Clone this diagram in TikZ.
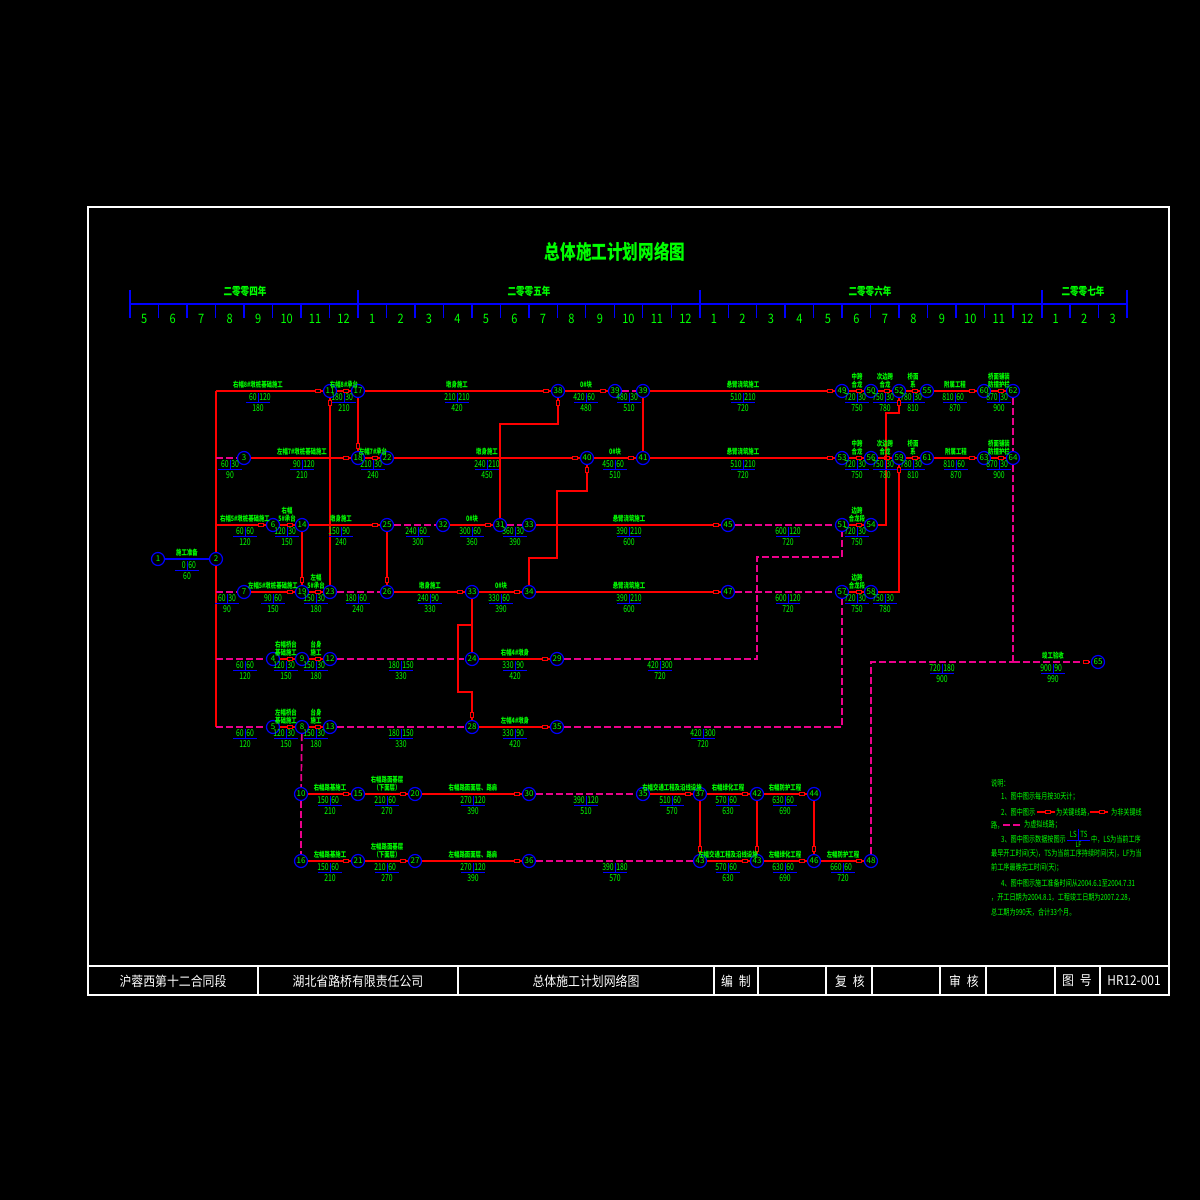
\documentclass[tikz,border=0pt]{standalone}
\usepackage{fontspec}
\setmainfont{Noto Sans CJK SC}
\usetikzlibrary{decorations.markings}

% LS | TS over LF, with the activity name above the line
\newcommand{\actlab}[6]{%
	\node[anm] (a#1-#2) at (#1,#2-2) {#3};
	\node[tnum,anchor=east] (s#1-#2) at (#1-1,#2+6.5) {#4};
	\node[tnum,anchor=west] (d#1-#2) at (#1+1,#2+6.5) {#5};
	\node[tnum] (f#1-#2) at (#1,#2+17.5) {#6};
	\draw[tbar] (#1,#2+2) -- (#1,#2+11) (#1-12,#2+11) -- (#1+12,#2+11);
}

\begin{document}
\begin{tikzpicture}[x=1pt,y=-1pt,
		nd/.style={circle,draw=blue,line width=1.2pt,fill=black,minimum size=13pt,inner sep=0pt,text=green,font=\fontsize{8}{8}\selectfont},
		act/.style={draw=red,line width=1.4pt,postaction={decorate,decoration={markings,mark=at position -5pt with {\draw[red,solid,line width=0.8pt,fill=black] (-2.6,-1.8) rectangle (2.6,1.8);}}}},
		crit/.style={act,line width=2.4pt},
		redl/.style={draw=red,line width=1.4pt},
		dum/.style={draw=magenta,line width=1.7pt,dash pattern=on 7pt off 3pt},
		dumk/.style={dum,line width=2.6pt,postaction={decorate,decoration={markings,mark=at position -5pt with {\draw[red,solid,line width=0.8pt,fill=black] (-2.6,-1.8) rectangle (2.6,1.8);}}}},
		anm/.style={anchor=south,text=green,align=center,inner sep=0.4pt,xscale=0.72,font=\bfseries\fontsize{7.5}{7.8}\selectfont},
		tnum/.style={text=green,inner sep=0.3pt,xscale=0.72,font=\fontsize{9.5}{9.5}\selectfont},
		tbar/.style={draw=blue,line width=1pt},
		tax/.style={draw=blue,line width=1.4pt},
		mon/.style={text=green,inner sep=0pt,xscale=0.85,font=\fontsize{13}{13}\selectfont},
		yr/.style={text=green,inner sep=0pt,xscale=0.78,font=\bfseries\fontsize{11}{11}\selectfont},
		tbk/.style={text=white,inner sep=0pt,xscale=0.88,font=\fontsize{13.5}{13.5}\selectfont},
		nt/.style={anchor=west,text=green,inner sep=0pt,xscale=0.72,font=\fontsize{8.5}{8.5}\selectfont}]
	\fill[black] (0,0) rectangle (1200,1200);
	% frame and title block
	\draw[white,line width=1.8pt] (88,207) rectangle (1169,995);
	\draw[white,line width=1.2pt] (88,966) -- (1169,966);
	\foreach \x in {258,458,714,758,826,872,940,986,1055,1100}
		\draw[white,line width=1.2pt] (\x,966) -- (\x,995);
	\node[tbk] (b1) at (173,981) {沪蓉西第十二合同段};
	\node[tbk] (b2) at (358,981) {湖北省路桥有限责任公司};
	\node[tbk] (b3) at (586,981) {总体施工计划网络图};
	\node[tbk] (b4) at (736,981) {编\enspace 制};
	\node[tbk] (b5) at (850,981) {复\enspace 核};
	\node[tbk] (b6) at (964,981) {审\enspace 核};
	\node[tbk] (b7) at (1077,981) {图\enspace 号};
	\node[tbk] (b8) at (1134,981) {HR12-001};
	\node[text=green,xscale=0.78,font=\bfseries\fontsize{20}{20}\selectfont] (ttl) at (615,252) {总体施工计划网络图};
	% time scale
	\draw[tax] (130,304) -- (1127,304);
	\foreach \x in {130,358,700,1042,1127}
		\draw[tax] (\x,290) -- (\x,318);
	\foreach \k in {1,...,34}
		\draw[tax] (130+28.486*\k,304) -- (130+28.486*\k,318);
	\foreach \m [count=\k from 0] in {5,6,7,8,9,10,11,12,1,2,3,4,5,6,7,8,9,10,11,12,1,2,3,4,5,6,7,8,9,10,11,12,1,2,3}
		\node[mon] (m\k) at (144.2+28.486*\k,319) {\m};
	\node[yr] (y4) at (245,291) {二零零四年};
	\node[yr] (y5) at (529,291) {二零零五年};
	\node[yr] (y6) at (870,291) {二零零六年};
	\node[yr] (y7) at (1083,291) {二零零七年};
	% event nodes
	\node[nd] (n1) at (158,559) {1};
	\node[nd] (n2) at (216,559) {2};
	\node[nd] (n11) at (330,391) {11};
	\node[nd] (n17) at (358,391) {17};
	\node[nd] (n38) at (558,391) {38};
	\node[nd] (n39a) at (615,391) {39};
	\node[nd] (n39) at (643,391) {39};
	\node[nd] (n49) at (842,391) {49};
	\node[nd] (n50) at (871,391) {50};
	\node[nd] (n52) at (899,391) {52};
	\node[nd] (n55) at (927,391) {55};
	\node[nd] (n60) at (984,391) {60};
	\node[nd] (n62) at (1013,391) {62};
	\node[nd] (n3) at (244,458) {3};
	\node[nd] (n18) at (358,458) {18};
	\node[nd] (n22) at (387,458) {22};
	\node[nd] (n40) at (587,458) {40};
	\node[nd] (n41) at (643,458) {41};
	\node[nd] (n53) at (842,458) {53};
	\node[nd] (n56) at (871,458) {56};
	\node[nd] (n59) at (899,458) {59};
	\node[nd] (n61) at (927,458) {61};
	\node[nd] (n63) at (984,458) {63};
	\node[nd] (n64) at (1013,458) {64};
	\node[nd] (n6) at (273,525) {6};
	\node[nd] (n14) at (302,525) {14};
	\node[nd] (n25) at (387,525) {25};
	\node[nd] (n32) at (443,525) {32};
	\node[nd] (n31) at (500,525) {31};
	\node[nd] (n33) at (529,525) {33};
	\node[nd] (n45) at (728,525) {45};
	\node[nd] (n51) at (842,525) {51};
	\node[nd] (n54) at (871,525) {54};
	\node[nd] (n7) at (244,592) {7};
	\node[nd] (n19) at (302,592) {19};
	\node[nd] (n23) at (330,592) {23};
	\node[nd] (n26) at (387,592) {26};
	\node[nd] (n33b) at (472,592) {33};
	\node[nd] (n34) at (529,592) {34};
	\node[nd] (n47) at (728,592) {47};
	\node[nd] (n57) at (842,592) {57};
	\node[nd] (n58) at (871,592) {58};
	\node[nd] (n4) at (273,659) {4};
	\node[nd] (n9) at (302,659) {9};
	\node[nd] (n12) at (330,659) {12};
	\node[nd] (n24) at (472,659) {24};
	\node[nd] (n29) at (557,659) {29};
	\node[nd] (n5) at (273,727) {5};
	\node[nd] (n8) at (302,727) {8};
	\node[nd] (n13) at (330,727) {13};
	\node[nd] (n28) at (472,727) {28};
	\node[nd] (n35) at (557,727) {35};
	\node[nd] (n10) at (301,794) {10};
	\node[nd] (n15) at (358,794) {15};
	\node[nd] (n20) at (415,794) {20};
	\node[nd] (n30) at (529,794) {30};
	\node[nd] (n35b) at (643,794) {35};
	\node[nd] (n37) at (700,794) {37};
	\node[nd] (n42) at (757,794) {42};
	\node[nd] (n44) at (814,794) {44};
	\node[nd] (n16) at (301,861) {16};
	\node[nd] (n21) at (358,861) {21};
	\node[nd] (n27) at (415,861) {27};
	\node[nd] (n36) at (529,861) {36};
	\node[nd] (n43a) at (700,861) {43};
	\node[nd] (n43) at (757,861) {43};
	\node[nd] (n46) at (814,861) {46};
	\node[nd] (n48) at (871,861) {48};
	\node[nd] (n65) at (1098,662) {65};
	% trunk from node 2
	\coordinate (t1) at (216,391);
	\coordinate (t3) at (216,458);
	\coordinate (t6) at (216,525);
	\coordinate (t7) at (216,592);
	\coordinate (t4) at (216,659);
	\coordinate (t5) at (216,727);
	\coordinate (cj) at (1013,662);
	\coordinate (c38) at (558,424);
	\draw[blue,line width=1.4pt] (n1) -- (n2);
	\draw[redl] (n2) -- (t1);
	\draw[redl] (n2) -- (t5);
	% row 1
	\draw[crit] (t1) -- (n11);
	\draw[crit] (n11) -- (n17);
	\draw[crit] (n17) -- (n38);
	\draw[crit] (n38) -- (n39a);
	\draw[dum] (n39a) -- (n39);
	\draw[crit] (n39) -- (n49);
	\draw[crit] (n49) -- (n50);
	\draw[crit] (n50) -- (n52);
	\draw[crit] (n52) -- (n55);
	\draw[crit] (n55) -- (n60);
	\draw[crit] (n60) -- (n62);
	% row 2
	\draw[dum] (t3) -- (n3);
	\draw[crit] (n3) -- (n18);
	\draw[crit] (n18) -- (n22);
	\draw[crit] (n22) -- (n40);
	\draw[crit] (n40) -- (n41);
	\draw[crit] (n41) -- (n53);
	\draw[crit] (n53) -- (n56);
	\draw[crit] (n56) -- (n59);
	\draw[crit] (n59) -- (n61);
	\draw[crit] (n61) -- (n63);
	\draw[crit] (n63) -- (n64);
	% row 3
	\draw[act] (t6) -- (n6);
	\draw[act] (n6) -- (n14);
	\draw[act] (n14) -- (n25);
	\draw[dum] (n25) -- (n32);
	\draw[act] (n32) -- (n31);
	\draw[dum] (n31) -- (n33);
	\draw[act] (n33) -- (n45);
	\draw[dum] (n45) -- (n51);
	\draw[act] (n51) -- (n54);
	% row 4
	\draw[dum] (t7) -- (n7);
	\draw[act] (n7) -- (n19);
	\draw[act] (n19) -- (n23);
	\draw[dum] (n23) -- (n26);
	\draw[act] (n26) -- (n33b);
	\draw[act] (n33b) -- (n34);
	\draw[act] (n34) -- (n47);
	\draw[dum] (n47) -- (n57);
	\draw[act] (n57) -- (n58);
	% rows 5 and 6
	\draw[dum] (t4) -- (n4);
	\draw[act] (n4) -- (n9);
	\draw[act] (n9) -- (n12);
	\draw[dum] (n12) -- (n24);
	\draw[act] (n24) -- (n29);
	\draw[dum] (n29) -| (757,557) -| (n51);
	\draw[dum] (t5) -- (n5);
	\draw[act] (n5) -- (n8);
	\draw[act] (n8) -- (n13);
	\draw[dum] (n13) -- (n28);
	\draw[act] (n28) -- (n35);
	\draw[dum] (n35) -| (n57);
	% rows 7 and 8
	\draw[dum] (n8) -- (n10);
	\draw[dum] (n10) -- (n16);
	\draw[act] (n10) -- (n15);
	\draw[act] (n15) -- (n20);
	\draw[act] (n20) -- (n30);
	\draw[dum] (n30) -- (n35b);
	\draw[act] (n35b) -- (n37);
	\draw[act] (n37) -- (n42);
	\draw[act] (n42) -- (n44);
	\draw[act] (n16) -- (n21);
	\draw[act] (n21) -- (n27);
	\draw[act] (n27) -- (n36);
	\draw[dum] (n36) -- (n43a);
	\draw[act] (n43a) -- (n43);
	\draw[act] (n43) -- (n46);
	\draw[act] (n46) -- (n48);
	\draw[act] (n37) -- (n43a);
	\draw[act] (n42) -- (n43);
	\draw[act] (n44) -- (n46);
	% vertical links
	\draw[act] (n23) -- (n11);
	\draw[act] (n17) -- (n18);
	\draw[act] (n14) -- (n19);
	\draw[act] (n25) -- (n26);
	\draw[redl] (n39) -- (n41);
	\draw[act] (n31) |- (c38) -- (n38);
	\draw[act] (n34) |- (557,558) |- (587,491) -- (n40);
	\draw[redl] (n33b) -- (n24);
	\draw[act] (n33b) |- (458,625) |- (472,692) -- (n28);
	\draw[act] (n54) -| (886,413) -| (n52);
	\draw[act] (n58) -| (n59);
	% finish
	\draw[dum,line width=2.2pt] (n62) -- (n64);
	\draw[dum,line width=2.2pt] (n64) -- (cj);
	\draw[dum] (n48) |- (cj);
	\draw[dumk] (cj) -- (n65);
	% activity times
	\actlab{187}{559}{施工准备}{0}{60}{60}
	\actlab{258}{391}{右幅8\#墩桩基础施工}{60}{120}{180}
	\actlab{344}{391}{右幅8\#承台}{180}{30}{210}
	\actlab{457}{391}{墩身施工}{210}{210}{420}
	\actlab{586}{391}{0\#块}{420}{60}{480}
	\actlab{629}{391}{}{480}{30}{510}
	\actlab{743}{391}{悬臂浇筑施工}{510}{210}{720}
	\actlab{857}{391}{中跨\\合龙}{720}{30}{750}
	\actlab{885}{391}{次边跨\\合龙}{750}{30}{780}
	\actlab{913}{391}{桥面\\系}{780}{30}{810}
	\actlab{955}{391}{附属工程}{810}{60}{870}
	\actlab{999}{391}{桥面铺装\\防撞护栏}{870}{30}{900}
	\actlab{230}{458}{}{60}{30}{90}
	\actlab{302}{458}{左幅7\#墩桩基础施工}{90}{120}{210}
	\actlab{373}{458}{左幅7\#承台}{210}{30}{240}
	\actlab{487}{458}{墩身施工}{240}{210}{450}
	\actlab{615}{458}{0\#块}{450}{60}{510}
	\actlab{743}{458}{悬臂浇筑施工}{510}{210}{720}
	\actlab{857}{458}{中跨\\合龙}{720}{30}{750}
	\actlab{885}{458}{次边跨\\合龙}{750}{30}{780}
	\actlab{913}{458}{桥面\\系}{780}{30}{810}
	\actlab{956}{458}{附属工程}{810}{60}{870}
	\actlab{999}{458}{桥面铺装\\防撞护栏}{870}{30}{900}
	\actlab{245}{525}{右幅5\#墩桩基础施工}{60}{60}{120}
	\actlab{287}{525}{右幅\\5\#承台}{120}{30}{150}
	\actlab{341}{525}{墩身施工}{150}{90}{240}
	\actlab{418}{525}{}{240}{60}{300}
	\actlab{472}{525}{0\#块}{300}{60}{360}
	\actlab{515}{525}{}{360}{30}{390}
	\actlab{629}{525}{悬臂浇筑施工}{390}{210}{600}
	\actlab{788}{525}{}{600}{120}{720}
	\actlab{857}{525}{边跨\\合龙段}{720}{30}{750}
	\actlab{227}{592}{}{60}{30}{90}
	\actlab{273}{592}{左幅5\#墩桩基础施工}{90}{60}{150}
	\actlab{316}{592}{左幅\\5\#承台}{150}{30}{180}
	\actlab{358}{592}{}{180}{60}{240}
	\actlab{430}{592}{墩身施工}{240}{90}{330}
	\actlab{501}{592}{0\#块}{330}{60}{390}
	\actlab{629}{592}{悬臂浇筑施工}{390}{210}{600}
	\actlab{788}{592}{}{600}{120}{720}
	\actlab{857}{592}{边跨\\合龙段}{720}{30}{750}
	\actlab{885}{592}{}{750}{30}{780}
	\actlab{245}{659}{}{60}{60}{120}
	\actlab{286}{659}{右幅桥台\\基础施工}{120}{30}{150}
	\actlab{316}{659}{台身\\施工}{150}{30}{180}
	\actlab{401}{659}{}{180}{150}{330}
	\actlab{515}{659}{右幅4\#墩身}{330}{90}{420}
	\actlab{660}{659}{}{420}{300}{720}
	\actlab{245}{727}{}{60}{60}{120}
	\actlab{286}{727}{左幅桥台\\基础施工}{120}{30}{150}
	\actlab{316}{727}{台身\\施工}{150}{30}{180}
	\actlab{401}{727}{}{180}{150}{330}
	\actlab{515}{727}{左幅4\#墩身}{330}{90}{420}
	\actlab{703}{727}{}{420}{300}{720}
	\actlab{330}{794}{右幅路基施工}{150}{60}{210}
	\actlab{387}{794}{右幅路面基层\\（下面层）}{210}{60}{270}
	\actlab{473}{794}{右幅路面面层、路肩}{270}{120}{390}
	\actlab{586}{794}{}{390}{120}{510}
	\actlab{672}{794}{右幅交通工程及沿线设施}{510}{60}{570}
	\actlab{728}{794}{右幅绿化工程}{570}{60}{630}
	\actlab{785}{794}{右幅防护工程}{630}{60}{690}
	\actlab{330}{861}{左幅路基施工}{150}{60}{210}
	\actlab{387}{861}{左幅路面基层\\（下面层）}{210}{60}{270}
	\actlab{473}{861}{左幅路面面层、路肩}{270}{120}{390}
	\actlab{615}{861}{}{390}{180}{570}
	\actlab{728}{861}{左幅交通工程及沿线设施}{570}{60}{630}
	\actlab{785}{861}{左幅绿化工程}{630}{60}{690}
	\actlab{843}{861}{左幅防护工程}{660}{60}{720}
	\actlab{942}{662}{}{720}{180}{900}
	\actlab{1053}{662}{竣工验收}{900}{90}{990}
	% notes
	\node[nt] (p0) at (991,783) {说明：};
	\node[nt] (p1) at (1001,797) {1、图中图示每月按30天计；};
	\node[nt] (p2) at (1001,812) {2、图中图示};
	\draw[red,line width=2pt] (1037,812) -- (1055,812);
	\draw[red,line width=0.8pt,fill=black] (1045.5,810.2) rectangle (1050.5,813.8);
	\node[nt] (p2b) at (1056,812) {为关键线路，};
	\draw[red,line width=1.2pt] (1090,812) -- (1108,812);
	\draw[red,line width=0.8pt,fill=black] (1099.5,810.2) rectangle (1104.5,813.8);
	\node[nt] (p2c) at (1111,812) {为非关键线};
	\node[nt] (p3) at (991,825) {路，};
	\draw[magenta,line width=1.5pt,dash pattern=on 7pt off 3pt] (1003,825) -- (1021,825);
	\node[nt] (p3b) at (1024,825) {为虚拟线路；};
	\node[nt] (p4) at (1001,839) {3、图中图示数据按图示};
	\node[tnum,anchor=east,font=\fontsize{8.5}{8.5}\selectfont] (q1) at (1077,834) {LS};
	\node[tnum,anchor=west,font=\fontsize{8.5}{8.5}\selectfont] (q2) at (1080,834) {TS};
	\node[tnum,font=\fontsize{7.5}{7.5}\selectfont] (q3) at (1078.5,845) {LF};
	\draw[tbar] (1078.5,829) -- (1078.5,840) (1067,840) -- (1090,840);
	\node[nt] (p4b) at (1091,839) {中，LS为当前工序};
	\node[nt] (p5) at (991,854) {最早开工时间(天)，TS为当前工序持续时间(天)，LF为当};
	\node[nt] (p6) at (991,868) {前工序最晚完工时间(天)；};
	\node[nt] (p7) at (1001,883) {4、图中图示施工准备时间从2004.6.1至2004.7.31};
	\node[nt] (p8) at (991,897) {，开工日期为2004.8.1，工程竣工日期为2007.2.28，};
	\node[nt] (p9) at (991,912) {总工期为990天，合计33个月。};
\end{tikzpicture}
\end{document}
